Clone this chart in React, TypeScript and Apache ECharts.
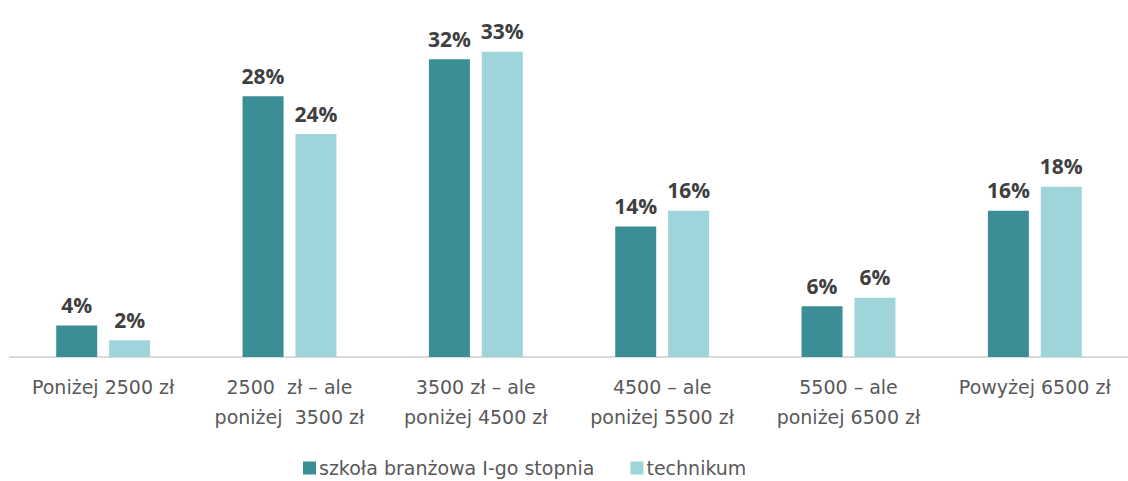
import React, { useEffect, useRef } from "react";
import * as echarts from "echarts";

const categories = [
  "Poniżej 2500 zł",
  "2500  zł – ale\nponiżej  3500 zł",
  "3500 zł – ale\nponiżej 4500 zł",
  "4500 – ale\nponiżej 5500 zł",
  "5500 – ale\nponiżej 6500 zł",
  "Powyżej 6500 zł",
];
const seriesNames = ["szkoła branżowa I-go stopnia", "technikum"];
const branzowaValues = [3.4, 28.2, 32.2, 14.1, 5.5, 15.8];
const technikumValues = [1.8, 24.1, 33.0, 15.8, 6.4, 18.4];
const branzowaLabels = ["4%", "28%", "32%", "14%", "6%", "16%"];
const technikumLabels = ["2%", "24%", "33%", "16%", "6%", "18%"];

const FONT = "'Open Sans', 'Noto Sans', sans-serif";
const TEXT_FONT = "'DejaVu Sans', 'Open Sans', sans-serif";

export default function App() {
  const ref = useRef<HTMLDivElement>(null);
  useEffect(() => {
    if (!ref.current) return;
    const chart = echarts.init(ref.current, undefined, { renderer: "svg" });
    const labelStyle = (labels: string[]) => ({
      show: true,
      position: "top",
      distance: 10,
      color: "#404040",
      fontFamily: FONT,
      fontWeight: "bold",
      fontSize: 21,
      formatter: (p: any) => labels[p.dataIndex],
    });
    chart.setOption({
      animation: false,
      grid: { left: 10, right: 0, top: 24, bottom: 124, containLabel: false },
      legend: {
        left: 298,
        top: 452,
        itemWidth: 13,
        itemHeight: 13,
        itemGap: 36,
        icon: "rect",
        textStyle: {
          color: "#595959",
          fontSize: 19,
          lineHeight: 22,
          fontFamily: TEXT_FONT,
          padding: [0, 0, 0, -2],
        },
        data: seriesNames,
      },
      xAxis: {
        type: "category",
        data: categories,
        axisLine: { lineStyle: { color: "#D9D9D9", width: 2 } },
        axisTick: { show: false },
        axisLabel: {
          color: "#595959",
          fontSize: 19,
          fontFamily: TEXT_FONT,
          lineHeight: 30,
          margin: 15,
          interval: 0,
        },
      },
      yAxis: {
        type: "value",
        min: 0,
        max: 36,
        show: false,
        splitLine: { show: false },
      },
      series: [
        {
          name: seriesNames[0],
          type: "bar",
          data: branzowaValues,
          barWidth: 41,
          barGap: "29%",
          itemStyle: { color: "#3B8E96" },
          label: labelStyle(branzowaLabels),
        },
        {
          name: seriesNames[1],
          type: "bar",
          data: technikumValues,
          barWidth: 41,
          itemStyle: { color: "#9ED4DA" },
          label: labelStyle(technikumLabels),
        },
      ],
    });
    return () => chart.dispose();
  }, []);
  return (
    <div
      ref={ref}
      style={{ position: "fixed", left: 0, top: 0, width: 1128, height: 481, background: "#fff" }}
    />
  );
}
